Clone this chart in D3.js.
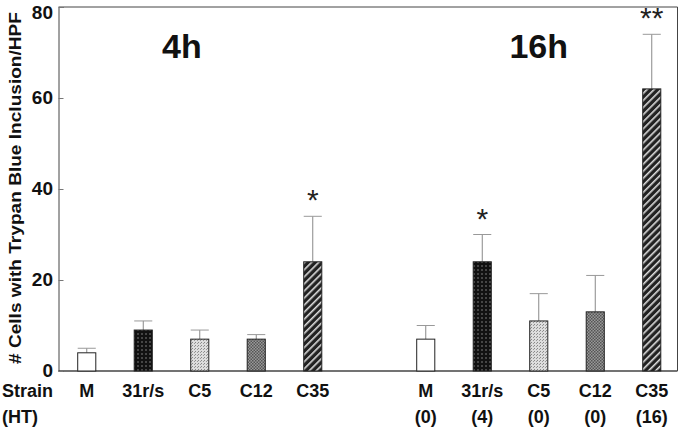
<!DOCTYPE html>
<head>
  <meta charset="utf-8">
  <style>
  body { margin: 0; background: #fff; }
  * { font-family: "Liberation Sans", Arial, sans-serif; }
  .lbl { font-weight: bold; font-size: 18px; fill: #111; }
  </style>
  <title>Trypan blue inclusion</title>
</head>
<body>
  <svg width="685" height="430"></svg>
  <script src="https://d3js.org/d3.v7.min.js"></script>
  <script>
  var strains = ["M", "31r/s", "C5", "C12", "C35"];
  var mean4h = [4, 9, 7, 7, 24];
  var top4h = [5, 11, 9, 8, 34];
  var mean16h = [7, 24, 11, 13, 62];
  var top16h = [10, 30, 17, 21, 74];
  var ht16h = ["(0)", "(4)", "(0)", "(0)", "(16)"];
  var stars4h = ["", "", "", "", "*"];
  var stars16h = ["", "*", "", "", "**"];
  var yTicks = [0, 20, 40, 60, 80];
  var fills = ["#fff", "url(#pDots)", "url(#pLight)", "url(#pCross)", "url(#pStripe)"];

  var svg = d3.select("svg");

  var slots = d3.range(11);
  var x = d3.scaleBand().domain(slots).range([58.5, 680]).paddingInner(0.68).paddingOuter(0.34);
  var y = d3.scaleLinear().domain([0, 80]).range([371, 7]);

  // patterns
  var defs = svg.append("defs");
  var p1 = defs.append("pattern").attr("id", "pDots").attr("patternUnits", "userSpaceOnUse")
      .attr("width", 4).attr("height", 4);
  p1.append("rect").attr("width", 4).attr("height", 4).attr("fill", "#111");
  p1.append("circle").attr("cx", 2).attr("cy", 2).attr("r", 0.8).attr("fill", "#888");
  var p2 = defs.append("pattern").attr("id", "pLight").attr("patternUnits", "userSpaceOnUse")
      .attr("width", 3).attr("height", 3);
  p2.append("rect").attr("width", 3).attr("height", 3).attr("fill", "#ddd");
  p2.append("rect").attr("x", 0).attr("y", 0).attr("width", 1).attr("height", 1).attr("fill", "#888");
  p2.append("rect").attr("x", 2).attr("y", 1).attr("width", 1).attr("height", 1).attr("fill", "#999");
  var p3 = defs.append("pattern").attr("id", "pCross").attr("patternUnits", "userSpaceOnUse")
      .attr("width", 3).attr("height", 3);
  p3.append("rect").attr("width", 3).attr("height", 3).attr("fill", "#999");
  p3.append("rect").attr("x", 0).attr("y", 0).attr("width", 1.5).attr("height", 1.5).attr("fill", "#555");
  p3.append("rect").attr("x", 1.5).attr("y", 1.5).attr("width", 1.5).attr("height", 1.5).attr("fill", "#555");
  var p4 = defs.append("pattern").attr("id", "pStripe").attr("patternUnits", "userSpaceOnUse")
      .attr("width", 5).attr("height", 5).attr("patternTransform", "rotate(45)");
  p4.append("rect").attr("width", 5).attr("height", 5).attr("fill", "#222");
  p4.append("rect").attr("x", 0).attr("width", 1.6).attr("height", 5).attr("fill", "#ddd");

  // frame
  svg.append("line").attr("x1", 58.5).attr("x2", 677.5).attr("y1", y(80)).attr("y2", y(80))
      .attr("stroke", "#444").attr("stroke-width", 1);
  svg.append("line").attr("x1", 677.5).attr("x2", 677.5).attr("y1", y(80)).attr("y2", y(0))
      .attr("stroke", "#444").attr("stroke-width", 1);
  svg.append("line").attr("x1", 58.5).attr("x2", 677.5).attr("y1", y(0)).attr("y2", y(0))
      .attr("stroke", "#444").attr("stroke-width", 1.3);

  // y axis
  var yAxis = d3.axisRight(y).tickValues(yTicks).tickSize(5).tickFormat("");
  var ya = svg.append("g").attr("transform", "translate(58.5,0)").call(yAxis);
  ya.select(".domain").attr("stroke", "#444");
  ya.selectAll(".tick line").attr("stroke", "#777");
  svg.selectAll(".ytl").data(yTicks).enter().append("text")
      .attr("class", "lbl").attr("x", 53).attr("y", function(d) { return Math.max(y(d) + 6, 19); })
      .attr("text-anchor", "end").style("font-size", "19px").text(function(d) { return d; });

  svg.append("text").attr("class", "lbl")
      .attr("transform", "translate(21,188) rotate(-90)")
      .attr("text-anchor", "middle").style("font-size", "17px")
      .attr("textLength", 352).attr("lengthAdjust", "spacingAndGlyphs")
      .text("# Cells with Trypan Blue Inclusion/HPF");

  // bars
  var rows = [];
  strains.forEach(function(s, i) {
    rows.push({ slot: i, strain: s, mean: mean4h[i], top: top4h[i], star: stars4h[i], fill: fills[i], ht: "" });
    rows.push({ slot: i + 6, strain: s, mean: mean16h[i], top: top16h[i], star: stars16h[i], fill: fills[i], ht: ht16h[i] });
  });

  var g = svg.append("g");
  g.selectAll(".err").data(rows).enter().append("line")
      .attr("x1", function(d) { return x(d.slot) + x.bandwidth() / 2; })
      .attr("x2", function(d) { return x(d.slot) + x.bandwidth() / 2; })
      .attr("y1", function(d) { return y(d.mean); })
      .attr("y2", function(d) { return y(d.top); })
      .attr("stroke", "#888").attr("stroke-width", 1);
  g.selectAll(".cap").data(rows).enter().append("line")
      .attr("x1", function(d) { return x(d.slot); })
      .attr("x2", function(d) { return x(d.slot) + x.bandwidth(); })
      .attr("y1", function(d) { return y(d.top); })
      .attr("y2", function(d) { return y(d.top); })
      .attr("stroke", "#999").attr("stroke-width", 1);
  g.selectAll(".bar").data(rows).enter().append("rect")
      .attr("x", function(d) { return x(d.slot); })
      .attr("width", x.bandwidth())
      .attr("y", function(d) { return y(d.mean); })
      .attr("height", function(d) { return y(0) - y(d.mean); })
      .attr("fill", function(d) { return d.fill; })
      .attr("stroke", "#222").attr("stroke-width", 1);

  g.selectAll(".star").data(rows.filter(function(d) { return d.star; })).enter().append("text")
      .attr("x", function(d) { return x(d.slot) + x.bandwidth() / 2; })
      .attr("y", function(d) { return y(d.top) - 6; })
      .attr("text-anchor", "middle").style("font-size", "30px").attr("fill", "#222")
      .text(function(d) { return d.star; });

  // category labels
  g.selectAll(".xl").data(rows).enter().append("text").attr("class", "lbl")
      .attr("x", function(d) { return x(d.slot) + x.bandwidth() / 2; })
      .attr("y", 397).attr("text-anchor", "middle")
      .text(function(d) { return d.strain; });
  g.selectAll(".ht").data(rows.filter(function(d) { return d.ht; })).enter().append("text").attr("class", "lbl")
      .attr("x", function(d) { return x(d.slot) + x.bandwidth() / 2; })
      .attr("y", 423).attr("text-anchor", "middle")
      .text(function(d) { return d.ht; });

  svg.append("text").attr("class", "lbl").attr("x", 2).attr("y", 397).text("Strain");
  svg.append("text").attr("class", "lbl").attr("x", 2).attr("y", 423).text("(HT)");

  // group titles
  svg.append("text").attr("class", "lbl").attr("x", (x(2) + x(3)) / 2 - 37).attr("y", 58)
      .attr("text-anchor", "middle").style("font-size", "34px").text("4h");
  svg.append("text").attr("class", "lbl").attr("x", x(8) + x.bandwidth() / 2).attr("y", 58)
      .attr("text-anchor", "middle").style("font-size", "34px").text("16h");
  </script>
</body>
